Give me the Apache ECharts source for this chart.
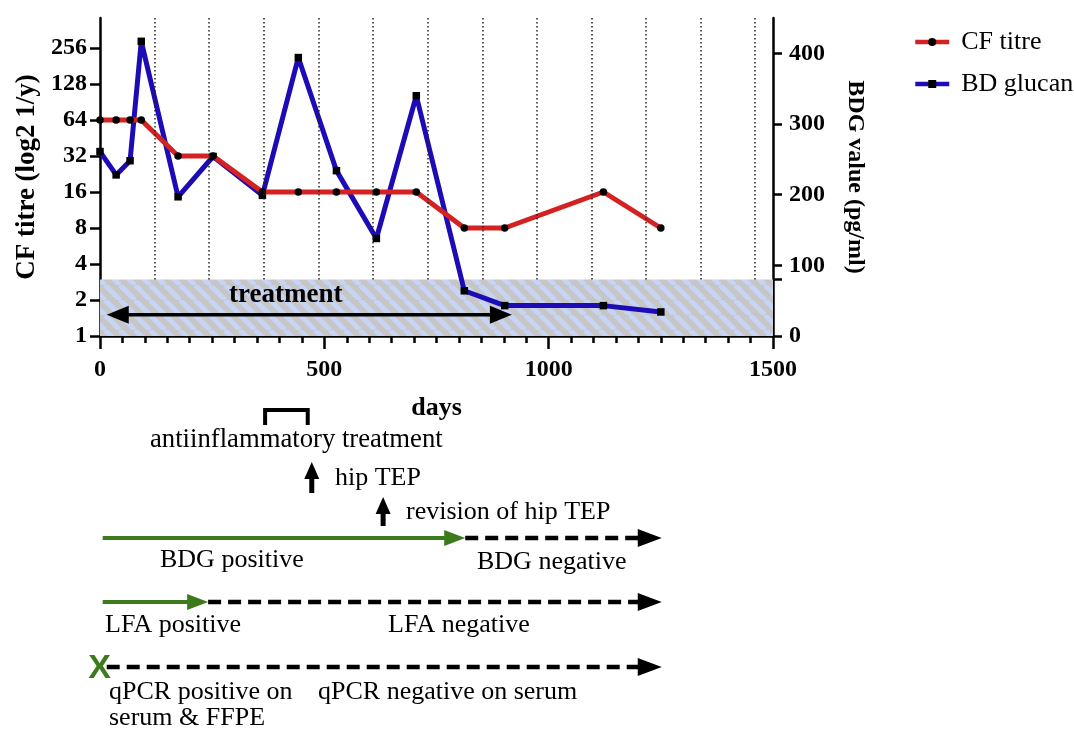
<!DOCTYPE html>
<html><head><meta charset="utf-8">
<script src="https://cdn.jsdelivr.net/npm/echarts@6/dist/echarts.min.js"></script>
<style>html,body{margin:0;padding:0;background:#fff}#c{width:1074px;height:729px}</style>
</head><body><div id="c"></div>
<script>
// ---- data ----
const days = [0, 36, 67, 92, 174, 252, 362, 442, 527, 616, 705, 812, 902, 1122, 1250];
const cfTitre = [64, 64, 64, 64, 32, 32, 16, 16, 16, 16, 16, 8, 8, 16, 8];
const bdGlucan = [261, 228, 248, 417, 197, 254, 199, 394, 234, 138, 340, 64, 43, 43, 34];
const leftTickLabels = [1, 2, 4, 8, 16, 32, 64, 128, 256];
const rightTickLabels = [0, 100, 200, 300, 400];
const bdgCutoff = 80;
const xTickLabels = [0, 500, 1000, 1500];
const dottedDays = [122, 243, 365, 487, 608, 730, 852, 973, 1095, 1217, 1338, 1460];
// timeline annotations (days)
const treatmentSpan = [15, 918];
const antiInflamSpan = [368, 463];
const hipTEPDay = 472;
const revisionDay = 631;
const bdgSwitchDay = 814;
const lfaSwitchDay = 241;
const timelineStart = 6;
const timelineEnd = 1252;

const SERIF = '"Liberation Serif", "Times New Roman", serif';
const RED = '#d42121', BLUE = '#1d0cb5', GREEN = '#3d7a1e';

// hatch pattern
const pc = document.createElement('canvas');
pc.width = 15; pc.height = 15;
const px = pc.getContext('2d');
px.fillStyle = '#c6c6c6'; px.fillRect(0, 0, 15, 15);
px.strokeStyle = '#c6d4f6'; px.lineWidth = 5;
for (const o of [-15, 0, 15]) { px.beginPath(); px.moveTo(o, 0); px.lineTo(o + 15, 15); px.stroke(); }

const chart = echarts.init(document.getElementById('c'));
const axisStyle = { color: '#000', width: 2.5 };
const tickLabel = { fontFamily: SERIF, fontWeight: 'bold', fontSize: 24, color: '#000' };
const nameStyleL = { fontFamily: SERIF, fontWeight: 'bold', fontSize: 27, color: '#000' };
const nameStyleR = { fontFamily: SERIF, fontWeight: 'bold', fontSize: 24, color: '#000' };
const nameStyleX = { fontFamily: SERIF, fontWeight: 'bold', fontSize: 26, color: '#000' };

chart.setOption({
  animation: false,
  backgroundColor: '#fff',
  grid: { left: 100, right: 301, top: 18, bottom: 393 },
  legend: {
    orient: 'vertical', left: 908, top: 24, itemWidth: 34, itemHeight: 10, itemGap: 16,
    lineStyle: { width: 4.5 },
    textStyle: { fontFamily: SERIF, fontSize: 26, color: '#000', padding: [0, 0, 0, 7] },
    data: ['CF titre', 'BD glucan']
  },
  xAxis: {
    type: 'value', min: 0, max: 1500, interval: 500,
    axisLine: { lineStyle: axisStyle },
    axisTick: { length: 13, lineStyle: axisStyle },
    minorTick: { show: true, splitNumber: 10, length: 7, lineStyle: axisStyle },
    splitLine: { show: false },
    axisLabel: Object.assign({ margin: 22, customValues: xTickLabels, formatter: v => String(v) }, tickLabel),
    name: 'days', nameLocation: 'middle', nameGap: 59, nameTextStyle: nameStyleX
  },
  yAxis: [{
    type: 'value', min: 0, max: 8.833, position: 'left',
    axisLine: { show: true, lineStyle: axisStyle },
    axisTick: { show: true, length: 10, lineStyle: axisStyle, customValues: leftTickLabels.map(v => Math.log2(v)) },
    axisLabel: Object.assign({ margin: 13, customValues: leftTickLabels.map(v => Math.log2(v)),
      formatter: v => String(Math.round(Math.pow(2, v))) }, tickLabel),
    splitLine: { show: false },
    name: 'CF titre (log2 1/y)', nameLocation: 'middle', nameGap: 58, nameTextStyle: nameStyleL
  }, {
    type: 'value', min: 0, max: 450, position: 'right',
    axisLine: { show: true, lineStyle: axisStyle },
    axisTick: { show: true, length: 9, lineStyle: axisStyle, customValues: rightTickLabels.concat([bdgCutoff]) },
    axisLabel: Object.assign({ margin: 16, customValues: rightTickLabels }, tickLabel),
    splitLine: { show: false },
    name: 'BDG value (pg/ml)', nameLocation: 'middle', nameRotate: -90, nameGap: 70, nameTextStyle: nameStyleR
  }],
  series: [{
    name: 'bg', type: 'line', yAxisIndex: 1, data: [], z: 1, silent: true,
    markArea: { silent: true, itemStyle: { color: { image: pc, repeat: 'repeat' } },
      data: [[{ coord: [0, 0] }, { coord: [1500, bdgCutoff] }]] },
    markLine: { silent: true, symbol: 'none', label: { show: false },
      lineStyle: { type: [1.5, 2.5], color: '#222', width: 1.5 },
      data: dottedDays.map(d => [{ coord: [d, bdgCutoff] }, { coord: [d, 450] }]) }
  }, {
    name: 'BD glucan', type: 'line', yAxisIndex: 1, z: 3,
    data: days.map((d, i) => [d, bdGlucan[i]]),
    symbol: 'rect', symbolSize: 7.5, itemStyle: { color: '#000' },
    lineStyle: { color: BLUE, width: 5 }
  }, {
    name: 'CF titre', type: 'line', yAxisIndex: 0, z: 4,
    data: days.map((d, i) => [d, Math.log2(cfTitre[i])]),
    symbol: 'circle', symbolSize: 7.5, itemStyle: { color: '#000' },
    lineStyle: { color: RED, width: 5 }
  }]
});

// ---- annotations ----
const X = d => chart.convertToPixel({ xAxisIndex: 0 }, d);
const YR = v => chart.convertToPixel({ yAxisIndex: 1 }, v);
const g = [];
function line(x1, y1, x2, y2, color, w, dash) {
  g.push({ type: 'line', z: 100, shape: { x1, y1, x2, y2 },
    style: { stroke: color, lineWidth: w, lineDash: dash || null, lineCap: 'butt' } });
}
function head(tipX, y, dir, len, half, color) {
  g.push({ type: 'polygon', z: 101, shape: { points: [[tipX, y], [tipX - dir * len, y - half], [tipX - dir * len, y + half]] },
    style: { fill: color } });
}
function upArrow(x, tipY, baseY) {
  g.push({ type: 'polygon', z: 101, shape: { points: [[x, tipY], [x - 7.5, tipY + 17], [x + 7.5, tipY + 17]] }, style: { fill: '#000' } });
  g.push({ type: 'rect', z: 101, shape: { x: x - 2.5, y: tipY + 16, width: 5, height: baseY - tipY - 16 }, style: { fill: '#000' } });
}
function text(t, x, y, opts) {
  g.push({ type: 'text', z: 102, style: Object.assign({ text: t, x, y, fontFamily: SERIF, fontSize: 26, fill: '#000',
    textAlign: 'left', textVerticalAlign: 'middle' }, opts || {}) });
}

// treatment double arrow
const ty = YR(30);
line(X(treatmentSpan[0]) + 18, ty, X(treatmentSpan[1]) - 18, ty, '#000', 3.5);
head(X(treatmentSpan[0]), ty, -1, 22, 9, '#000');
head(X(treatmentSpan[1]), ty, 1, 22, 9, '#000');
text('treatment', X(414), YR(58), { textAlign: 'center', fontWeight: 'bold', fontSize: 27 });

// anti-inflammatory bracket
const bx1 = X(antiInflamSpan[0]), bx2 = X(antiInflamSpan[1]);
g.push({ type: 'polyline', z: 100, shape: { points: [[bx1, 425], [bx1, 410], [bx2, 410], [bx2, 425]] },
  style: { stroke: '#000', lineWidth: 4, fill: null, lineJoin: 'miter' } });
text('antiinflammatory treatment', 150, 440, { fontSize: 26.7 });

upArrow(X(hipTEPDay), 462, 493);
text('hip TEP', 335, 478);
upArrow(X(revisionDay), 497, 526);
text('revision of hip TEP', 406, 512);

// BDG row
const x0 = X(timelineStart), xe = X(timelineEnd);
const xb = X(bdgSwitchDay), xl = X(lfaSwitchDay);
line(x0, 538, xb - 18, 538, GREEN, 4);
head(xb, 538, 1, 21, 8, GREEN);
line(xb, 538, xe - 20, 538, '#000', 4.5, [13, 7]);
head(xe, 538, 1, 24, 9, '#000');
text('BDG positive', 160, 560);
text('BDG negative', 477, 562);

// LFA row
line(x0, 602, xl - 18, 602, GREEN, 4);
head(xl, 602, 1, 21, 8, GREEN);
line(xl, 602, xe - 20, 602, '#000', 4.5, [13, 7]);
head(xe, 602, 1, 24, 9, '#000');
text('LFA positive', 105, 625);
text('LFA negative', 388, 625);

// qPCR row
line(x0 + 4, 667, xe - 20, 667, '#000', 4.5, [13, 7]);
head(xe, 667, 1, 24, 9, '#000');
g.push({ type: 'text', z: 103, style: { text: 'X', x: x0 - 3, y: 669, fontFamily: '"Liberation Sans", Arial, sans-serif',
  fontWeight: 'bold', fontSize: 34, fill: GREEN, textAlign: 'center', textVerticalAlign: 'middle' } });
text('qPCR positive on', 109, 692);
text('serum & FFPE', 109, 718);
text('qPCR negative on serum', 318, 692);

chart.setOption({ graphic: g });
</script>
</body></html>
